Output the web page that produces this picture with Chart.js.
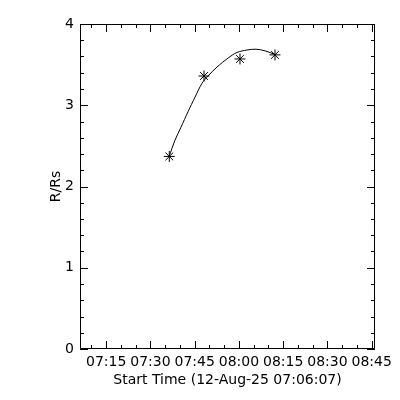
<!DOCTYPE html>
<html>
<head>
<meta charset="utf-8">
<script src="https://cdn.jsdelivr.net/npm/chart.js@4.4.1/dist/chart.umd.min.js"></script>
<style>
  html, body { margin: 0; padding: 0; background: #fff; }
  canvas { display: block; }
</style>
</head>
<body>
<canvas id="c" width="400" height="400"></canvas>
<script>
// ---- data ----
const startTime = '07:06:07';
const rangeSeconds = 6000;

// observed heights (asterisks)
const obsTimes  = ['07:36:23', '07:48:09', '08:00:21', '08:12:13'];
const obsValues = [2.37, 3.36, 3.57, 3.62];

// fitted curve
const fitTimes  = ['07:36:23', '07:38:19', '07:40:21', '07:42:44', '07:45:06', '07:47:28',
                   '07:49:30', '07:52:33', '07:56:17', '07:59:20', '08:02:44', '08:05:47',
                   '08:08:50', '08:12:13'];
const fitValues = [2.375, 2.57, 2.73, 2.92, 3.10, 3.27,
                   3.36, 3.47, 3.58, 3.65, 3.68, 3.69,
                   3.67, 3.625];

// axis ticks
const xTickLabels = ['07:15', '07:30', '07:45', '08:00', '08:15', '08:30', '08:45'];
const xMinorTimes = ['07:10', '07:15', '07:20', '07:25', '07:30', '07:35', '07:40', '07:45',
                     '07:50', '07:55', '08:00', '08:05', '08:10', '08:15', '08:20', '08:25',
                     '08:30', '08:35', '08:40', '08:45'];
const yTickLabels = ['0', '1', '2', '3', '4'];
const yMinorValues = [0, 0.2, 0.4, 0.6, 0.8, 1, 1.2, 1.4, 1.6, 1.8, 2, 2.2, 2.4, 2.6, 2.8,
                      3, 3.2, 3.4, 3.6, 3.8, 4];

const xTitle = 'Start Time (12-Aug-25 07:06:07)';
const yTitle = 'R/Rs';

// ---- helpers ----
function toSec(t) {
  const p = t.split(':').map(Number);
  return p[0] * 3600 + p[1] * 60 + (p[2] || 0);
}
function fmt(sec) {
  const h = Math.floor(sec / 3600), m = Math.floor((sec % 3600) / 60);
  return String(h).padStart(2, '0') + ':' + String(m).padStart(2, '0');
}
const xMin = toSec(startTime);
const xMax = xMin + rangeSeconds;
const xMajorSet = new Set(xTickLabels.map(toSec));
const yMajorSet = new Set(yTickLabels.map(Number));

const FONT = { family: 'DejaVu Sans', size: 14 };

const boxPlugin = {
  id: 'idlBox',
  afterDraw(chart) {
    const { ctx, chartArea: { left, right, top, bottom }, scales: { x, y } } = chart;
    ctx.save();
    ctx.strokeStyle = '#000';
    ctx.lineWidth = 1;
    ctx.beginPath();
    ctx.rect(left + 0.5, top + 0.5, right - left - 1, bottom - top - 1);
    ctx.stroke();
    ctx.beginPath();
    x.ticks.forEach(t => {
      const px = Math.round(x.getPixelForValue(t.value)) + 0.5;
      const len = xMajorSet.has(t.value) ? 8 : 4;
      ctx.moveTo(px, bottom); ctx.lineTo(px, bottom - len);
      ctx.moveTo(px, top); ctx.lineTo(px, top + len);
    });
    y.ticks.forEach(t => {
      const py = Math.round(y.getPixelForValue(t.value)) + 0.5;
      const major = yMajorSet.has(Math.round(t.value * 1000) / 1000);
      const len = major ? 8 : 4;
      ctx.moveTo(left, py); ctx.lineTo(left + len, py);
      ctx.moveTo(right, py); ctx.lineTo(right - len, py);
    });
    ctx.stroke();
    ctx.restore();
  }
};

new Chart(document.getElementById('c'), {
  type: 'line',
  data: {
    datasets: [
      {
        label: 'fit',
        data: fitTimes.map((t, i) => ({ x: toSec(t), y: fitValues[i] })),
        borderColor: '#000',
        borderWidth: 1,
        pointRadius: 0,
        fill: false,
        tension: 0.3
      },
      {
        label: 'obs',
        data: obsTimes.map((t, i) => ({ x: toSec(t), y: obsValues[i] })),
        showLine: false,
        pointStyle: 'star',
        pointRadius: 5.5,
        pointBorderWidth: 1,
        borderColor: '#000',
        backgroundColor: '#000'
      }
    ]
  },
  options: {
    responsive: false,
    animation: false,
    devicePixelRatio: 1,
    layout: { padding: { top: 24, right: 25, left: 0, bottom: 0 } },
    plugins: { legend: { display: false }, tooltip: { enabled: false } },
    scales: {
      x: {
        type: 'linear',
        min: xMin,
        max: xMax,
        afterBuildTicks: s => { s.ticks = xMinorTimes.map(t => ({ value: toSec(t) })); },
        afterFit: s => { s.height = 51; },
        grid: { display: false, drawTicks: false },
        border: { display: false },
        ticks: {
          autoSkip: false, maxRotation: 0, minRotation: 0, padding: 5,
          color: '#000', font: FONT,
          callback: v => xMajorSet.has(v) ? fmt(v) : ''
        },
        title: { display: true, text: xTitle, color: '#000', font: FONT, padding: { top: 0, bottom: 11 } }
      },
      y: {
        min: 0,
        max: 4,
        afterBuildTicks: s => { s.ticks = yMinorValues.map(v => ({ value: v })); },
        afterFit: s => { s.width = 80; },
        grid: { display: false, drawTicks: false },
        border: { display: false },
        ticks: {
          autoSkip: false, padding: 6, color: '#000', font: FONT,
          callback: v => yMajorSet.has(Math.round(v * 1000) / 1000) ? String(Math.round(v)) : ''
        },
        title: { display: true, text: yTitle, color: '#000', font: FONT, padding: { top: 48, bottom: 0 } }
      }
    }
  },
  plugins: [boxPlugin]
});
</script>
</body>
</html>
